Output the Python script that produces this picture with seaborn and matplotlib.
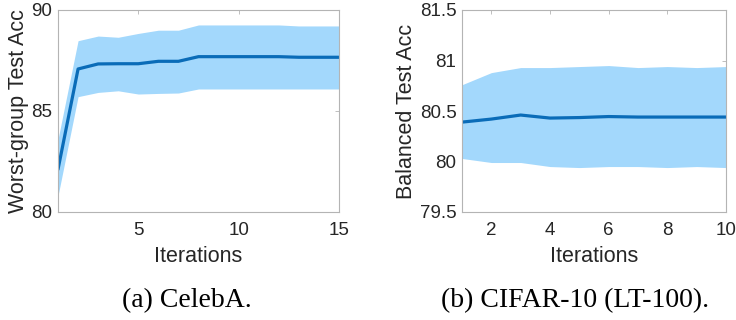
import matplotlib
matplotlib.use("Agg")
import matplotlib.pyplot as plt
import seaborn as sns
import pandas as pd

# ---- data ----
celeba_iter = list(range(1, 16))
celeba_mean = [82.11, 87.08, 87.33, 87.34, 87.34, 87.46, 87.46, 87.69, 87.69, 87.69, 87.69, 87.69, 87.66, 87.66, 87.66]
celeba_upper = [83.6, 88.48, 88.71, 88.65, 88.84, 89.0, 89.0, 89.26, 89.26, 89.26, 89.26, 89.26, 89.21, 89.21, 89.21]
celeba_lower = [80.8, 85.71, 85.92, 86.0, 85.84, 85.87, 85.89, 86.09, 86.09, 86.09, 86.09, 86.09, 86.09, 86.09, 86.09]

cifar_iter = list(range(1, 11))
cifar_mean = [80.39, 80.42, 80.46, 80.43, 80.435, 80.445, 80.44, 80.44, 80.44, 80.44]
cifar_upper = [80.76, 80.88, 80.93, 80.93, 80.94, 80.95, 80.93, 80.94, 80.93, 80.94]
cifar_lower = [80.03, 79.99, 79.99, 79.95, 79.94, 79.95, 79.95, 79.94, 79.95, 79.94]

celeba_xticks = [5, 10, 15]
celeba_yticks = [80, 85, 90]
cifar_xticks = [2, 4, 6, 8, 10]
cifar_yticks = [79.5, 80, 80.5, 81, 81.5]
cifar_yticklabels = ["79.5", "80", "80.5", "81", "81.5"]

LINE = "#0a6cb8"
BAND = "#a3d8fc"
TXT = "#262626"

sns.set_style("white")
plt.rcParams["font.family"] = ["Liberation Sans", "DejaVu Sans"]

fig = plt.figure(figsize=(7.36, 3.2), dpi=100)
ax1 = fig.add_axes([58 / 736, 1 - 212 / 320, 281 / 736, 202 / 320])
ax2 = fig.add_axes([462 / 736, 1 - 212 / 320, 264 / 736, 202 / 320])

def style(ax):
    for s in ax.spines.values():
        s.set_color("#b4b4b4")
        s.set_linewidth(0.8)
    ax.tick_params(direction="in", length=3, width=0.6, color="#b4b4b4",
                   top=True, right=True, labelsize=13.5, labelcolor=TXT, pad=4)
    ax.tick_params(axis="x", pad=7)

df1 = pd.DataFrame({"it": celeba_iter, "acc": celeba_mean})
ax1.fill_between(celeba_iter, celeba_lower, celeba_upper, color=BAND, linewidth=0)
sns.lineplot(data=df1, x="it", y="acc", ax=ax1, color=LINE, linewidth=2.3)
ax1.set_xlim(1, 15)
ax1.set_ylim(80, 90)
ax1.set_xticks(celeba_xticks)
ax1.set_yticks(celeba_yticks)
ax1.set_xlabel("Iterations", fontsize=15.5, color=TXT, labelpad=5)
ax1.set_ylabel("Worst-group Test Acc", fontsize=15.5, color=TXT, labelpad=2)
style(ax1)

df2 = pd.DataFrame({"it": cifar_iter, "acc": cifar_mean})
ax2.fill_between(cifar_iter, cifar_lower, cifar_upper, color=BAND, linewidth=0)
sns.lineplot(data=df2, x="it", y="acc", ax=ax2, color=LINE, linewidth=2.3)
ax2.set_xlim(1, 10)
ax2.set_ylim(79.5, 81.5)
ax2.set_xticks(cifar_xticks)
ax2.set_yticks(cifar_yticks)
ax2.set_yticklabels(cifar_yticklabels)
ax2.set_xlabel("Iterations", fontsize=15.5, color=TXT, labelpad=5)
ax2.set_ylabel("Balanced Test Acc", fontsize=15.5, color=TXT, labelpad=2)
style(ax2)

fig.text(187 / 736, 1 - 301 / 320, "(a) CelebA.", ha="center", va="center",
         fontsize=20, family=["Liberation Serif", "DejaVu Serif"], color="black")
fig.text(575 / 736, 1 - 301 / 320, "(b) CIFAR-10 (LT-100).", ha="center", va="center",
         fontsize=20, family=["Liberation Serif", "DejaVu Serif"], color="black")

fig.savefig("out.png", dpi=100)
